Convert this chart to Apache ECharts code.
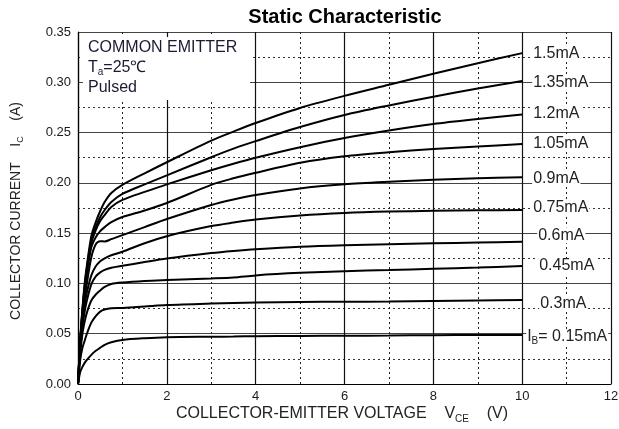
<!DOCTYPE html>
<html><head><meta charset="utf-8">
<script src="https://cdn.jsdelivr.net/npm/echarts@6/dist/echarts.min.js"></script>
<style>html,body{margin:0;padding:0;background:#fff}#c{width:619px;height:429px}</style>
</head><body><div id="c"></div>
<script>
// Collector-emitter voltage sample points (V)
const vce = [0, 0.05, 0.1, 0.15, 0.2, 0.3, 0.4, 0.5, 0.6, 0.75, 1, 1.5, 2, 3, 3.5, 4, 5, 6, 7, 8, 9, 10];
// Collector current (A) for each base current
const ib015 = [0, 0.012, 0.017, 0.021, 0.024, 0.029, 0.033, 0.036, 0.039, 0.0415, 0.0438, 0.0455, 0.0465, 0.047, 0.0472, 0.0475, 0.0478, 0.048, 0.0482, 0.0485, 0.0487, 0.0488];
const ib030 = [0, 0.024, 0.036, 0.043, 0.05, 0.061, 0.0675, 0.072, 0.074, 0.0752, 0.0756, 0.077, 0.0785, 0.08, 0.0805, 0.081, 0.0815, 0.0818, 0.082, 0.0825, 0.083, 0.0835];
const ib045 = [0, 0.03, 0.05, 0.062, 0.071, 0.083, 0.089, 0.093, 0.0965, 0.0995, 0.101, 0.1025, 0.1034, 0.105, 0.106, 0.108, 0.1105, 0.1122, 0.1133, 0.1145, 0.1158, 0.1173];
const ib060 = [0, 0.034, 0.057, 0.072, 0.083, 0.099, 0.107, 0.111, 0.1135, 0.1155, 0.1175, 0.1213, 0.1248, 0.1302, 0.1323, 0.134, 0.1365, 0.138, 0.139, 0.1399, 0.1407, 0.1415];
const ib075 = [0, 0.037, 0.062, 0.079, 0.091, 0.108, 0.117, 0.122, 0.125, 0.128, 0.1315, 0.14, 0.147, 0.157, 0.1605, 0.1635, 0.1675, 0.17, 0.1714, 0.1722, 0.1727, 0.173];
const ib090 = [0, 0.04, 0.066, 0.085, 0.1, 0.126, 0.139, 0.142, 0.1418, 0.144, 0.148, 0.156, 0.164, 0.178, 0.1835, 0.188, 0.1945, 0.1985, 0.201, 0.203, 0.2045, 0.2055];
const ib105 = [0, 0.041, 0.07, 0.092, 0.11, 0.136, 0.146, 0.152, 0.156, 0.161, 0.166, 0.1725, 0.18, 0.198, 0.2045, 0.21, 0.22, 0.2265, 0.2305, 0.2337, 0.2362, 0.2386];
const ib120 = [0, 0.042, 0.072, 0.095, 0.113, 0.14, 0.153, 0.162, 0.168, 0.176, 0.183, 0.191, 0.1985, 0.2125, 0.219, 0.225, 0.2355, 0.2445, 0.252, 0.2585, 0.2635, 0.268];
const ib135 = [0, 0.043, 0.073, 0.097, 0.115, 0.143, 0.156, 0.166, 0.173, 0.181, 0.189, 0.1985, 0.2075, 0.2255, 0.234, 0.2415, 0.2555, 0.2675, 0.277, 0.2857, 0.2938, 0.3013];
const ib150 = [0, 0.044, 0.075, 0.1, 0.118, 0.147, 0.161, 0.172, 0.181, 0.19, 0.198, 0.2095, 0.2205, 0.242, 0.251, 0.2595, 0.2745, 0.2865, 0.2975, 0.3085, 0.319, 0.329];
// Curve labels
const curveLabels = ['{i|I}{s|B}{i|= 0.15mA}', '0.3mA', '0.45mA', '0.6mA', '0.75mA', '0.9mA', '1.05mA', '1.2mA', '1.35mA', '1.5mA'];
// Texts
const titleText = 'Static Characteristic';
const noteLines = ['COMMON EMITTER', '{m|T}{s|a}{m|=25\u2103}', 'Pulsed'];
const xName = '{m|COLLECTOR-EMITTER VOLTAGE    V}{s|CE}{m|    (V)}';
const yName = '{m|COLLECTOR CURRENT    I}{s|C}{m|    (A)}';

// label placement styling (separate from data)
const labelDist = [4, 17, 16, 15, 10, 10, 10, 10, 10, 10];
const labelDy = [2, 4, 0, -6.5, -2.5, 1, 0, -1, 2, 0];

const FONT = '"Liberation Sans", Arial, Helvetica, sans-serif';
const curves = [ib015, ib030, ib045, ib060, ib075, ib090, ib105, ib120, ib135, ib150];

const series = curves.map((arr, k) => ({
  type: 'line',
  name: curveLabels[k],
  data: vce.map((v, i) => [v, arr[i]]),
  showSymbol: false,
  smooth: 0.3,
  lineStyle: { color: '#000', width: 2 },
  z: 3,
  endLabel: {
    show: true,
    formatter: () => curveLabels[k],
    distance: labelDist[k],
    offset: [0, labelDy[k]],
    color: '#222',
    fontSize: 16,
    fontFamily: FONT,
    backgroundColor: '#fff',
    padding: [0, 1],
    rich: {
      i: { fontSize: 16, fontFamily: FONT, color: '#222' },
      s: { fontSize: 10, fontFamily: FONT, color: '#222', padding: [9, 0, 0, 0], lineHeight: 10 }
    }
  }
}));

const chart = echarts.init(document.getElementById('c'), null, { renderer: 'canvas' });
chart.setOption({
  animation: false,
  backgroundColor: '#fff',
  grid: { left: 78, right: 8, top: 32, bottom: 45, containLabel: false, outerBoundsMode: 'none' },
  xAxis: {
    type: 'value', min: 0, max: 12, interval: 2,
    axisLine: { show: true, lineStyle: { color: '#000', width: 1.2 } },
    axisTick: { show: false },
    axisLabel: { color: '#1a1a1a', fontSize: 13, fontFamily: FONT, margin: 6 },
    splitLine: { show: true, lineStyle: { color: '#111', width: 1.2 } },
    minorTick: { show: false, splitNumber: 2 },
    minorSplitLine: { show: true, lineStyle: { color: '#222', width: 1, type: [2, 3] } }
  },
  yAxis: {
    type: 'value', min: 0, max: 0.35, interval: 0.05,
    axisLine: { show: true, lineStyle: { color: '#000', width: 1.2 } },
    axisTick: { show: false },
    axisLabel: { color: '#1a1a1a', fontSize: 13, fontFamily: FONT, margin: 7, formatter: v => v.toFixed(2) },
    splitLine: { show: true, lineStyle: { color: '#444', width: 1.2 } },
    minorTick: { show: false, splitNumber: 2 },
    minorSplitLine: { show: true, lineStyle: { color: '#333', width: 1, type: [2, 3] } }
  },
  graphic: [
    { type: 'rect', z: 1, shape: { x: 83, y: 37, width: 167, height: 63 }, style: { fill: '#fff' } },
    { type: 'text', z: 5, x: 345, y: 17, style: { text: titleText, align: 'center', verticalAlign: 'middle', fill: '#000', font: 'bold 20px ' + FONT } },
    { type: 'text', z: 5, x: 88, y: 47.5, style: { text: noteLines[0], align: 'left', verticalAlign: 'middle', fill: '#1a1a33', font: '16px ' + FONT } },
    { type: 'text', z: 5, x: 88, y: 68, style: { text: noteLines[1], align: 'left', verticalAlign: 'middle', fill: '#1a1a33', font: '16px ' + FONT,
      rich: { m: { fontSize: 16, fontFamily: FONT, fill: '#1a1a33' }, s: { fontSize: 10, fontFamily: FONT, fill: '#1a1a33', padding: [9, 0, 0, 0], lineHeight: 10 } } } },
    { type: 'text', z: 5, x: 88, y: 88, style: { text: noteLines[2], align: 'left', verticalAlign: 'middle', fill: '#1a1a33', font: '16px ' + FONT } },
    { type: 'text', z: 5, x: 342, y: 414, style: { text: xName, align: 'center', verticalAlign: 'middle', fill: '#222', font: '16px ' + FONT,
      rich: { m: { fontSize: 16, fontFamily: FONT, fill: '#222' }, s: { fontSize: 10, fontFamily: FONT, fill: '#222', padding: [10, 0, 0, 0], lineHeight: 10 } } } },
    { type: 'text', z: 5, x: 16, y: 211, rotation: Math.PI / 2, style: { text: yName, align: 'center', verticalAlign: 'middle', fill: '#222', font: '14px ' + FONT,
      rich: { m: { fontSize: 14, fontFamily: FONT, fill: '#222' }, s: { fontSize: 9, fontFamily: FONT, fill: '#222', padding: [9, 0, 0, 0], lineHeight: 9 } } } }
  ],
  series: series
});
</script>
</body></html>
